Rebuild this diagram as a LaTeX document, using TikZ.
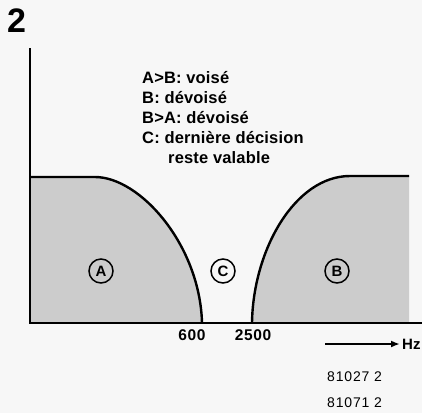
\documentclass[tikz,border=0pt]{standalone}
\usepackage{fontspec}
\setmainfont{Liberation Sans}
\usetikzlibrary{arrows.meta}
\begin{document}
\begin{tikzpicture}[x=1pt,y=-1pt,
  note/.style={anchor=base west,inner sep=0pt,font=\fontsize{16.5}{18}\selectfont\bfseries\addfontfeatures{LetterSpace=1}},
  tick/.style={anchor=base,inner sep=0pt,font=\fontsize{15.5}{16}\selectfont\bfseries\addfontfeatures{LetterSpace=4}},
  code/.style={anchor=base west,inner sep=0pt,font=\fontsize{14}{15}\selectfont\addfontfeatures{LetterSpace=6}},
  region/.style={circle,draw,line width=1.5pt,inner sep=0pt,minimum size=24pt,font=\fontsize{15}{16}\selectfont\bfseries},
  zone/.style={fill=black!20},
  edge/.style={line width=2.4pt},
  axis/.style={line width=1.6pt}]
\fill[black!3] (0,0) rectangle (422,413);
\useasboundingbox (0,0) rectangle (422,413);
% regions
\fill[zone] (31,177) -- (95,177) .. controls (140,177) and (200,245) .. (202,323) -- (31,323) -- cycle;
\fill[zone] (252,323) .. controls (253,250) and (295,176) .. (350,176) -- (409,176) -- (409,323) -- cycle;
\coordinate (a0) at (31,177);
\coordinate (a1) at (95,177);
\coordinate (a2) at (202,323);
\coordinate (b0) at (252,323);
\coordinate (b1) at (350,176);
\coordinate (b2) at (409,176);
\draw[edge] (a0) -- (a1) .. controls (140,177) and (200,245) .. (a2);
\draw[edge] (b0) .. controls (253,250) and (295,176) .. (b1) -- (b2);
% axes
\coordinate (o) at (30,323);
\coordinate (ytop) at (30,48);
\coordinate (xend) at (422,323);
\draw[axis] (ytop) -- (o);
\draw[line width=2pt] (29.2,323) -- (xend);
% title number
\node[anchor=base west,inner sep=0pt,font=\fontsize{34}{36}\selectfont\bfseries] (fig) at (7,32) {2};
% notes
\node[note] (l1) at (142,83) {A>B: voisé};
\node[note] (l2) at (142,103) {B: dévoisé};
\node[note] (l3) at (142,123) {B>A: dévoisé};
\node[note] (l4) at (142,143) {C: dernière décision};
\node[note] (l5) at (168,163) {reste valable};
% circled labels
\node[region] (A) at (101,271) {A};
\node[region] (C) at (223,271) {C};
\node[region] (B) at (337,271) {B};
% ticks
\node[tick] (t600) at (192,340.5) {600};
\node[tick] (t2500) at (253,340.5) {2500};
% frequency arrow
\coordinate (h0) at (325,344);
\node[anchor=base west,inner sep=0pt,font=\fontsize{15}{16}\selectfont\bfseries] (hz) at (402,349.5) {Hz};
\draw[line width=1.8pt,-{Latex[length=9pt,width=7pt]}] (h0) -- ([xshift=-2pt]hz.west |- h0);
% codes
\node[code] (c1) at (327,381) {81027 2};
\node[code] (c2) at (327,407) {81071 2};
\end{tikzpicture}
\end{document}
